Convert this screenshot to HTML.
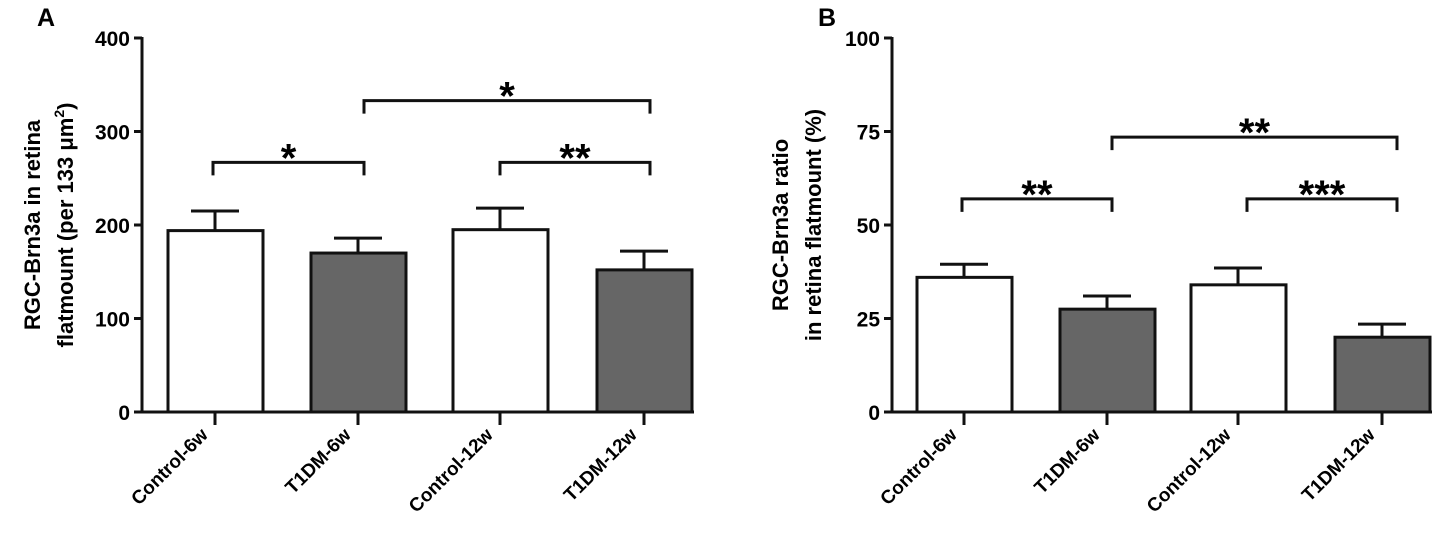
<!DOCTYPE html>
<html><head><meta charset="utf-8"><style>
body{margin:0;background:#fff}
svg{display:block;font-family:"Liberation Sans",sans-serif;font-weight:bold}
</style></head><body>
<svg id="c" width="1452" height="552" viewBox="0 0 1452 552"></svg>
<script>
const categories=["Control-6w","T1DM-6w","Control-12w","T1DM-12w"];
const meansA=[194,170,195,152];
const errA=[21,16,23,20];
const meansB=[36,27.5,34,20];
const errB=[3.5,3.5,4.5,3.5];
const ticksA=[0,100,200,300,400];
const ticksB=[0,25,50,75,100];
const sigA=[{a:0,b:1,label:"*",y:267},{a:1,b:3,label:"*",y:333},{a:2,b:3,label:"**",y:267}];
const sigB=[{a:0,b:1,label:"**",y:57},{a:1,b:3,label:"**",y:73.5},{a:2,b:3,label:"***",y:57}];
const fills=["#fff","#666","#fff","#666"];
const NS="http://www.w3.org/2000/svg";
const svg=document.getElementById('c');
function el(t,a,p){const e=document.createElementNS(NS,t);for(const k in a)e.setAttribute(k,a[k]);(p||svg).appendChild(e);return e;}
function panel(opt){
  const g=el('g',{});
  
  
  const y=v=>412-(v-opt.min)/(opt.max-opt.min)*374;
  const ax=opt.axisX;
  opt.means.forEach((m,i)=>{
    const cx=opt.centers[i];
    const top=y(m+opt.err[i]);
    const e=el('path',{d:`M${cx} ${y(m)}V${top}M${cx-24} ${top}H${cx+24}`,stroke:'#111','stroke-width':3,fill:'none'},g);
    
    
    const b=el('rect',{x:cx-47,y:y(m),width:95,height:412-y(m),fill:fills[i],stroke:'#111','stroke-width':3},g);
    
    
    el('line',{x1:cx,x2:cx,y1:412,y2:425,stroke:'#111','stroke-width':3},g);
    const t=el('text',{x:cx-6,y:436,'font-size':19,'text-anchor':'end',transform:`rotate(-45 ${cx-6} 436)`},g);
    t.textContent=categories[i];
    
    
  });
  el('path',{d:`M${ax} 37V412H${opt.centers[3]+50}`,stroke:'#111','stroke-width':3,fill:'none'},g);
  opt.ticks.forEach(v=>{
    el('line',{x1:ax-8,x2:ax,y1:y(v),y2:y(v),stroke:'#111','stroke-width':3},g);
    const t=el('text',{x:ax-12,y:y(v)+8,'font-size':21,'text-anchor':'end'},g);
    t.textContent=v;
    
    
  });
  opt.sig.forEach(s=>{
    const yy=y(s.y),x1=opt.bx[s.a],x2=opt.bx[s.b];
    el('path',{d:`M${x1} ${yy+13}V${yy}H${x2}V${yy+13}`,stroke:'#111','stroke-width':3,fill:'none'},g);
    const t=el('text',{x:(x1+x2)/2,y:yy+9,'font-size':40,'text-anchor':'middle'},g);
    t.textContent=s.label;
    
    
  });
  const tl=el('text',{x:0,y:0,'font-size':22,'text-anchor':'middle',transform:`translate(${opt.titleX},225) rotate(-90)`},g);
  
  
  opt.title(tl);
  const L=el('text',{x:opt.letterX,y:26,'font-size':25},g);
  L.textContent=opt.letter;
  
  
}
panel({name:'panel-a',min:0,max:400,axisX:142,centers:[215,358,500,644],bx:[213,364,500,650],means:meansA,err:errA,ticks:ticksA,sig:sigA,titleX:48,letter:'A',letterX:37,
 title:t=>{t.innerHTML='<tspan x="0" dy="-8">RGC-Brn3a in retina</tspan><tspan x="0" dy="33">flatmount (per 133  μm</tspan><tspan dy="-9" font-size="14">2</tspan><tspan dy="9">)</tspan>';}});
panel({name:'panel-b',min:0,max:100,axisX:892,centers:[964,1107,1238,1382],bx:[962,1112,1247,1397],means:meansB,err:errB,ticks:ticksB,sig:sigB,titleX:796,letter:'B',letterX:818,
 title:t=>{t.innerHTML='<tspan x="0" dy="-8">RGC-Brn3a ratio</tspan><tspan x="0" dy="33">in retina flatmount (%)</tspan>';}});
</script>
</body></html>
